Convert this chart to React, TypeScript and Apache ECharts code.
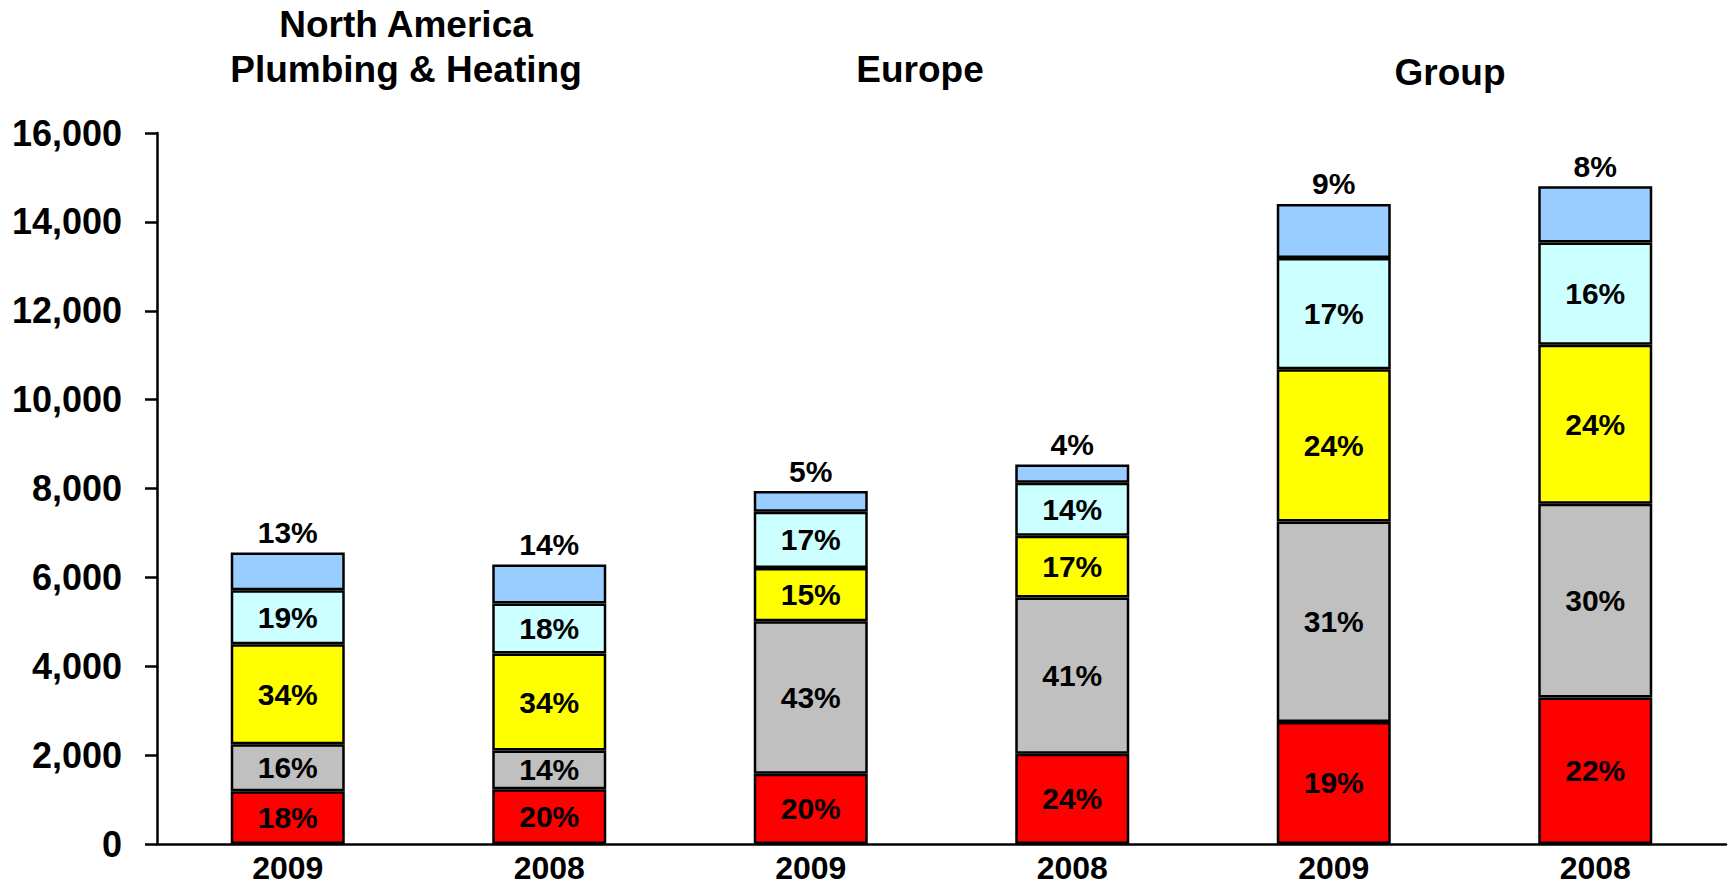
import React, { useEffect, useRef } from "react";
import * as echarts from "echarts";

const categories = ["2009", "2008", "2009", "2008", "2009", "2008"];
const regionTitles = ["North America", "Plumbing & Heating", "Europe", "Group"];

const redValues = [1189, 1234, 1581, 2032, 2748, 3297];
const grayValues = [1058, 872, 3431, 3514, 4509, 4360];
const yellowValues = [2247, 2179, 1201, 1388, 3429, 3577];
const cyanValues = [1217, 1126, 1262, 1194, 2503, 2303];
const blueValues = [849, 879, 466, 414, 1214, 1266];

const redLabels = ["18%", "20%", "20%", "24%", "19%", "22%"];
const grayLabels = ["16%", "14%", "43%", "41%", "31%", "30%"];
const yellowLabels = ["34%", "34%", "15%", "17%", "24%", "24%"];
const cyanLabels = ["19%", "18%", "17%", "14%", "17%", "16%"];
const blueLabels = ["13%", "14%", "5%", "4%", "9%", "8%"];

const FONT = "'Liberation Sans', Arial, Helvetica, sans-serif";

export default function App() {
  const ref = useRef<HTMLDivElement>(null);

  useEffect(() => {
    if (!ref.current) return;
    const chart = echarts.init(ref.current, null, { renderer: "svg" });

    const mkSeries = (
      name: string,
      values: number[],
      labels: string[],
      color: string,
      pos: string
    ) => ({
      name,
      type: "bar",
      stack: "total",
      barWidth: 114,
      data: values,
      itemStyle: { color, borderColor: "#000", borderWidth: 2.5 },
      label: {
        show: true,
        position: pos,
        distance: 5,
        fontFamily: FONT,
        fontWeight: "bold",
        fontSize: 30,
        color: "#000",
        formatter: (p: any) => labels[p.dataIndex],
      },
    });

    const titleStyle = (text: string) => ({
      text,
      textAlign: "center",
      textVerticalAlign: "middle",
      fontFamily: FONT,
      fontWeight: "bold",
      fontSize: 37,
      fill: "#000",
    });

    chart.setOption({
      animation: false,
      backgroundColor: "#fff",
      grid: { left: 157, right: 2, top: 133, bottom: 42, containLabel: false },
      xAxis: {
        type: "category",
        data: categories,
        axisLine: { show: true, lineStyle: { color: "#000", width: 2.5 } },
        axisTick: { show: false },
        axisLabel: {
          fontFamily: FONT,
          fontWeight: "bold",
          fontSize: 32,
          lineHeight: 32,
          color: "#000",
          margin: 8,
        },
      },
      yAxis: {
        type: "value",
        min: 0,
        max: 16000,
        interval: 2000,
        splitLine: { show: false },
        axisLine: { show: true, lineStyle: { color: "#000", width: 2.5 } },
        axisTick: {
          show: true,
          inside: false,
          length: 12,
          lineStyle: { color: "#000", width: 2.5 },
        },
        axisLabel: {
          fontFamily: FONT,
          fontWeight: "bold",
          fontSize: 36,
          color: "#000",
          margin: 35,
          formatter: (v: number) => v.toLocaleString("en-US"),
        },
      },
      graphic: [
        { type: "text", x: 406, y: 24, style: titleStyle(regionTitles[0]) },
        { type: "text", x: 406, y: 69, style: titleStyle(regionTitles[1]) },
        { type: "text", x: 920, y: 69, style: titleStyle(regionTitles[2]) },
        { type: "text", x: 1450, y: 72, style: titleStyle(regionTitles[3]) },
      ],
      series: [
        mkSeries("red", redValues, redLabels, "#FF0000", "inside"),
        mkSeries("gray", grayValues, grayLabels, "#C0C0C0", "inside"),
        mkSeries("yellow", yellowValues, yellowLabels, "#FFFF00", "inside"),
        mkSeries("cyan", cyanValues, cyanLabels, "#CCFFFF", "inside"),
        mkSeries("blue", blueValues, blueLabels, "#99CCFF", "top"),
      ],
    });

    return () => chart.dispose();
  }, []);

  return (
    <div
      ref={ref}
      style={{ position: "absolute", left: 0, top: 0, width: 1728, height: 886 }}
    />
  );
}
